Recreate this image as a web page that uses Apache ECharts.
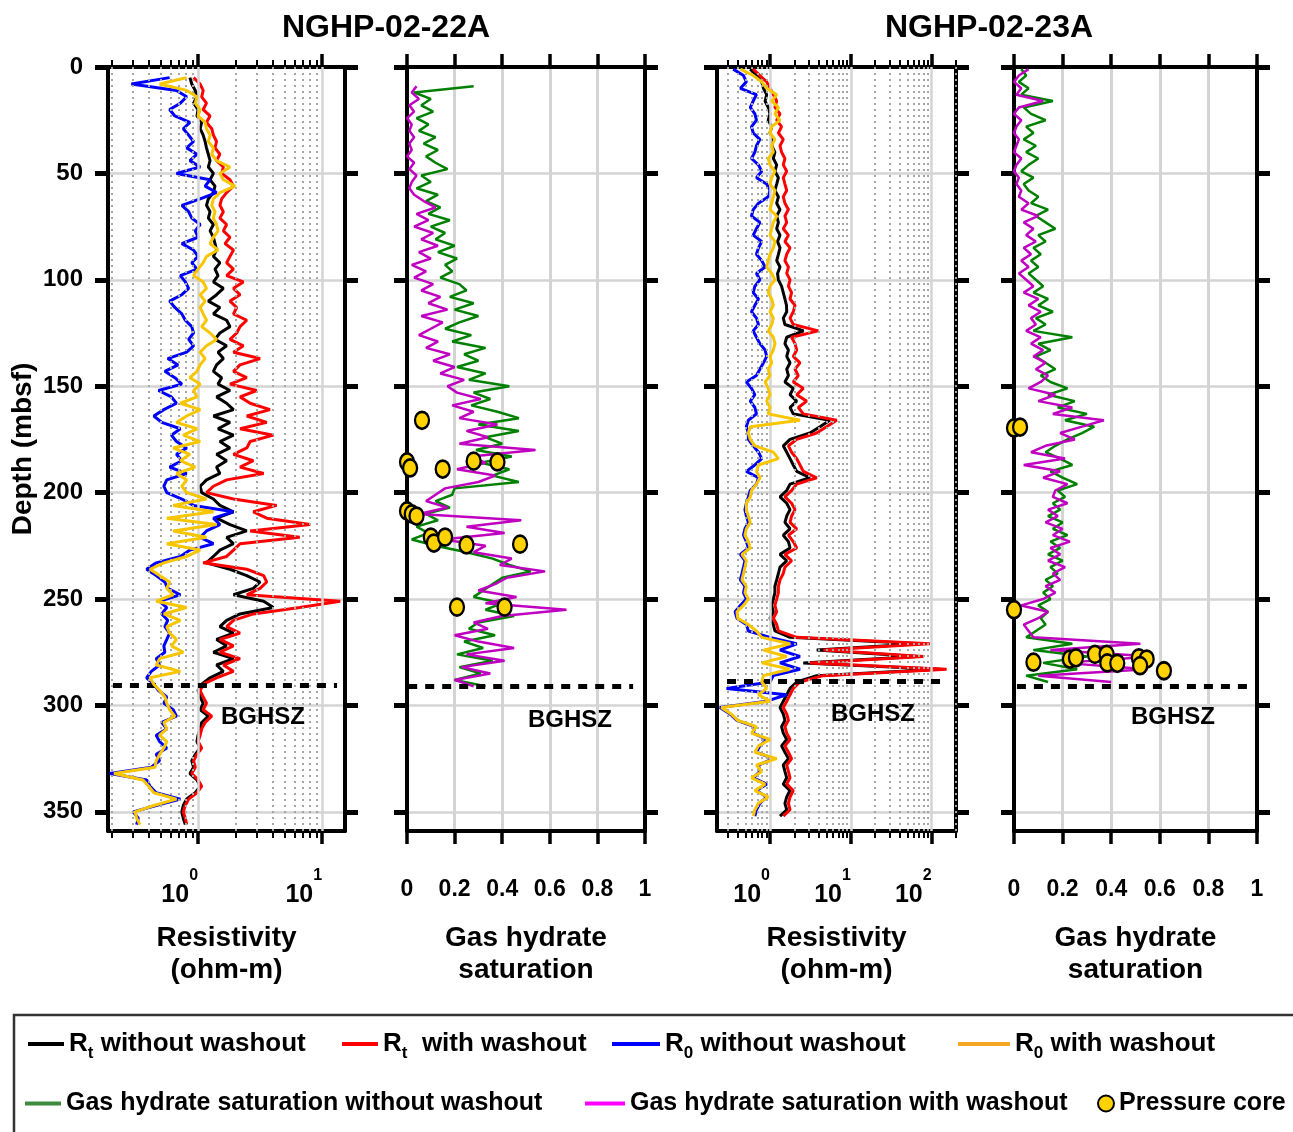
<!DOCTYPE html>
<html>
<head>
<meta charset="utf-8">
<title>NGHP-02-22A / NGHP-02-23A</title>
<script src="https://cdn.jsdelivr.net/npm/echarts/dist/echarts.min.js"></script>
<style>
  html, body { margin: 0; padding: 0; background: #fff; }
  #main { width: 1293px; height: 1132px; }
</style>
</head>
<body>
<div id="main"></div>
<script>
// ---- data ----
var depth22 = [5,8,11,14,17,20,23,26,29,32,35,38,41,44,47,50,53,56,59,62,65,68,71,74,77,80,83,86,89,92,
  95,98,101,104,107,110,113,116,119,122,125,128,131,134,137,140,143,146,149,152,155,158,161,164,167,170,173,176,179,182,
  185,188,191,194,197,200,203,206,209,212,215,218,221,224,227,230,233,236,239,242,245,248,251,254,257,260,263,266,269,272,
  275,278,281,284,287,290,293,296,299,302,305,308,311,314,317,320,323,326,329,332,335,338,341,344,347,350,353,356];

var depth23 = [1,4,7,10,13,16,19,22,25,28,31,34,37,40,43,46,49,52,55,58,61,64,67,70,73,76,79,82,85,88,
  91,94,97,100,103,106,109,112,115,118,121,124,127,130,133,136,139,142,145,148,151,154,157,160,163,166,169,172,175,178,
  181,184,187,190,193,196,199,202,205,208,211,214,217,220,223,226,229,232,235,238,241,244,247,250,253,256,259,262,265,268,
  271,274,277,280,283,286,289,292,295,298,301,304,307,310,313,316,319,322,325,328,331,334,337,340,343,346,349,352];

// NGHP-02-22A resistivity (ohm-m)
var rtNoWash22 = [0.86,0.89,0.95,0.98,0.92,1.0,0.98,1.07,1.04,1.1,
  1.14,1.17,1.21,1.25,1.21,1.33,1.25,1.37,1.33,1.21,
  1.17,1.25,1.21,1.33,1.25,1.33,1.37,1.41,1.33,1.5,
  1.37,1.45,1.33,1.6,1.41,1.21,1.5,1.33,1.7,1.81,
  1.5,1.37,1.7,1.45,1.6,1.41,1.33,1.55,1.45,1.81,
  1.41,1.7,1.93,1.33,1.81,1.45,1.93,1.5,1.81,1.41,
  1.7,1.41,1.5,1.17,1.04,1.07,1.33,1.5,1.93,1.41,
  1.81,2.47,1.7,1.93,1.5,1.33,1.17,1.81,2.47,3.16,
  2.79,1.93,3.38,4.05,2.18,1.7,1.5,1.93,1.41,1.7,
  1.33,1.93,1.41,1.6,1.25,1.07,1.0,1.04,1.1,1.04,
  1.21,1.07,1.04,1.0,0.98,1.04,0.95,0.89,0.92,0.86,
  0.98,1.04,0.95,0.81,0.76,0.74,0.76,0.79];
var rtWash22 = [0.92,1.04,1.1,1.07,1.17,1.1,1.25,1.17,1.29,1.33,
  1.41,1.37,1.5,1.41,1.6,1.55,1.81,1.93,1.7,1.55,
  1.5,1.6,1.5,1.7,1.6,1.81,1.65,1.93,1.81,1.7,
  1.93,1.7,2.32,1.93,2.18,1.81,2.05,1.93,2.47,2.18,
  2.05,1.81,2.32,1.93,3.16,2.18,1.93,2.47,1.81,2.97,
  2.18,2.63,3.8,2.47,3.58,2.18,4.05,2.63,2.47,1.93,
  2.79,2.18,3.38,1.7,1.33,1.17,1.93,4.3,2.79,3.58,
  8.0,2.63,6.6,2.18,1.93,1.7,1.1,2.47,3.38,3.58,
  3.16,2.47,14,6.6,2.79,1.93,1.7,2.18,1.5,1.93,
  1.5,2.18,1.6,1.93,1.41,1.1,1.04,1.1,1.17,1.1,
  1.29,1.14,1.07,1.04,1.0,1.07,0.98,0.92,0.95,0.89,
  1.0,1.07,0.98,0.84,0.79,0.76,0.79,0.81];
var r0NoWash22 = [0.59,0.29,0.67,0.81,0.72,0.59,0.65,0.86,0.76,0.84,
  0.92,0.81,0.98,0.86,1.04,0.67,1.25,1.14,1.41,1.04,
  0.74,0.84,0.89,1.04,0.95,1.0,0.74,0.92,1.0,0.89,
  0.98,0.72,0.79,0.84,0.74,0.59,0.65,0.74,0.79,0.89,
  0.92,0.84,0.92,0.81,0.57,0.69,0.54,0.65,0.74,0.48,
  0.61,0.67,0.53,0.44,0.51,0.72,0.61,0.67,0.81,0.67,
  0.74,0.59,0.81,0.56,0.53,0.56,0.74,0.92,1.93,1.33,
  1.5,1.17,1.04,1.33,0.86,0.72,0.46,0.385,0.46,0.54,
  0.57,0.72,0.49,0.56,0.51,0.57,0.54,0.59,0.56,0.53,
  0.54,0.46,0.49,0.42,0.385,0.44,0.48,0.56,0.53,0.63,
  0.67,0.51,0.56,0.46,0.49,0.56,0.46,0.49,0.42,0.195,
  0.385,0.41,0.46,0.72,0.46,0.30,0.33,0.32];
var r0Wash22 = [0.81,0.49,0.81,0.98,0.95,1.04,1.0,1.14,1.17,1.25,
  1.21,1.33,1.29,1.41,1.81,1.5,1.6,1.99,1.5,1.33,
  1.29,1.37,1.33,1.41,1.45,1.33,1.25,1.45,1.17,1.10,
  1.0,0.92,1.1,1.17,1.04,1.14,1.04,1.1,1.17,1.07,
  1.25,1.41,1.17,1.04,1.14,1.04,0.98,0.86,1.04,0.92,
  0.98,0.72,1.04,0.81,0.67,0.98,0.76,1.04,0.63,0.86,
  0.72,0.95,0.67,0.81,0.74,0.81,1.17,0.63,1.33,0.56,
  1.41,0.63,1.17,0.56,1.04,0.81,0.53,0.41,0.49,0.59,
  0.56,0.63,0.46,0.81,0.53,0.72,0.56,0.59,0.67,0.61,
  0.76,0.49,0.46,0.72,0.41,0.44,0.49,0.54,0.56,0.59,
  0.65,0.53,0.56,0.49,0.56,0.53,0.49,0.46,0.45,0.21,
  0.36,0.40,0.44,0.67,0.44,0.31,0.32,0.34];

// NGHP-02-23A resistivity (ohm-m)
var rtNoWash23 = [0.57,0.68,0.79,0.83,0.91,0.87,0.95,1.0,0.95,1.05,
  1.0,1.10,1.05,1.15,1.10,1.21,1.15,1.27,1.21,1.15,
  1.27,1.21,1.33,1.21,1.27,1.21,1.33,1.24,1.33,1.27,
  1.21,1.33,1.24,1.27,1.39,1.46,1.53,1.6,1.61,1.46,
  1.53,2.6,1.61,1.53,1.69,1.61,1.77,1.61,1.69,1.53,
  1.94,1.77,2.14,1.77,1.94,5.5,4.15,3.12,1.77,1.46,
  1.61,1.77,1.94,2.14,3.12,1.77,1.61,1.33,1.61,1.77,
  1.61,1.53,1.77,1.46,1.69,1.77,1.33,1.61,1.33,1.27,
  1.21,1.15,1.15,1.10,1.05,1.10,1.0,1.10,1.15,1.77,
  72,3.78,65,2.58,127,3.78,2.14,1.77,1.61,1.46,
  1.33,1.46,1.53,1.39,1.46,1.61,1.39,1.53,1.69,1.46,
  1.53,1.61,1.46,1.77,1.61,1.53,1.61,1.33];
var rtWash23 = [0.62,0.75,0.91,1.0,1.10,1.21,1.15,1.33,1.21,1.39,
  1.27,1.46,1.33,1.39,1.53,1.46,1.61,1.46,1.53,1.61,
  1.46,1.53,1.69,1.53,1.61,1.46,1.69,1.53,1.77,1.61,
  1.53,1.69,1.61,1.77,1.69,1.85,1.77,2.04,1.94,1.77,
  1.94,3.96,1.85,2.04,2.14,1.94,2.35,2.04,2.24,1.94,
  2.58,2.14,2.84,2.24,2.58,6.7,5.0,3.78,2.14,1.69,
  1.85,2.14,2.35,2.58,3.78,2.14,1.85,1.53,1.85,2.04,
  1.85,1.77,2.14,1.69,1.94,2.14,1.53,1.85,1.53,1.46,
  1.33,1.27,1.27,1.21,1.15,1.21,1.10,1.21,1.27,2.14,
  95,4.57,79,3.12,153,4.57,2.35,1.94,1.77,1.61,
  1.46,1.61,1.69,1.53,1.61,1.77,1.53,1.69,1.85,1.61,
  1.69,1.77,1.61,1.94,1.77,1.69,1.77,1.46];
var r0NoWash23 = [0.35,0.47,0.51,0.43,0.68,0.62,0.57,0.65,0.68,0.59,
  0.62,0.75,0.68,0.65,0.59,0.72,0.79,0.68,0.91,1.0,
  0.95,0.72,0.62,0.59,0.75,0.68,0.62,0.79,0.72,0.68,
  0.79,0.87,0.68,0.75,0.65,0.62,0.72,0.65,0.59,0.68,
  0.72,0.62,0.68,0.75,0.87,0.91,0.83,0.75,0.68,0.51,
  0.59,0.65,0.57,0.65,0.68,0.54,0.51,0.54,0.54,0.62,
  0.72,0.79,0.65,0.51,0.72,0.68,0.57,0.54,0.51,0.49,
  0.51,0.54,0.49,0.47,0.51,0.54,0.43,0.49,0.47,0.45,
  0.43,0.49,0.47,0.51,0.43,0.37,0.39,0.51,0.54,1.0,
  2.14,1.33,2.35,1.33,2.35,1.10,1.0,0.29,1.61,0.91,
  0.24,0.32,0.39,0.65,0.62,0.91,0.75,0.68,1.10,0.72,
  0.75,0.62,0.91,0.68,0.91,0.75,0.68,0.65];
var r0Wash23 = [0.43,0.62,0.79,0.91,1.21,1.05,1.27,1.15,1.33,1.05,
  1.0,1.15,1.05,1.10,0.95,1.0,1.15,1.05,1.0,1.15,
  1.10,1.05,1.0,1.21,1.10,1.05,1.0,1.15,1.10,1.0,
  0.95,0.91,1.05,1.15,1.0,0.95,1.05,1.10,1.0,1.10,
  1.05,0.95,1.10,1.15,1.10,1.0,1.05,0.95,1.0,0.87,
  0.95,1.0,0.91,1.0,0.95,2.35,0.57,0.54,0.57,0.65,
  1.10,1.27,0.72,0.68,0.75,0.68,0.59,0.57,0.51,0.51,
  0.54,0.57,0.51,0.49,0.54,0.57,0.45,0.51,0.49,0.47,
  0.45,0.51,0.49,0.54,0.47,0.39,0.40,0.54,0.68,0.79,
  1.77,0.83,1.61,0.79,1.77,0.83,0.79,0.91,0.72,1.0,
  0.25,0.33,0.40,0.68,0.59,1.0,0.72,0.65,1.21,0.68,
  0.79,0.59,0.87,0.65,0.95,0.72,0.65,0.62];

// gas hydrate saturation
var satDepth22 = [9,12,15,18,21,24,27,30,33,36,39,42,45,48,51,54,57,60,63,66,69,72,75,78,81,84,87,90,93,96,
  99,102,105,108,111,114,117,120,123,126,129,132,135,138,141,144,147,150,153,156,159,162,165,168,171,174,177,180,183,186,
  189,192,195,198,201,204,207,210,213,216,219,222,225,228,231,234,237,240,243,246,249,252,255,258,261,264,267,270,273,276,
  279,282,285,288,291];
var shNoWash22 = [0.28,0.03,0.10,0.06,0.11,0.04,0.09,0.05,0.12,0.07,
  0.13,0.08,0.12,0.17,0.06,0.10,0.04,0.13,0.08,0.14,
  0.09,0.18,0.10,0.16,0.12,0.20,0.13,0.21,0.16,0.19,
  0.14,0.22,0.25,0.18,0.28,0.20,0.30,0.22,0.16,0.27,
  0.19,0.33,0.24,0.30,0.21,0.33,0.26,0.43,0.28,0.35,
  0.27,0.38,0.47,0.30,0.47,0.33,0.40,0.29,0.44,0.31,
  0.43,0.36,0.47,0.20,0.19,0.12,0.18,0.08,0.13,0.04,
  0.09,0.02,0.12,0.25,0.36,0.43,0.52,0.40,0.36,0.32,
  0.28,0.40,0.33,0.45,0.30,0.26,0.37,0.24,0.32,0.21,
  0.36,0.22,0.31,0.20,0.33];
var shWash22 = [0.04,0.02,0.05,0.01,0.03,0.0,0.02,0.01,0.03,0.01,
  0.02,0.0,0.03,0.01,0.04,0.02,0.01,0.03,0.07,0.12,
  0.04,0.09,0.03,0.11,0.06,0.13,0.05,0.10,0.02,0.08,
  0.03,0.11,0.06,0.14,0.09,0.17,0.06,0.15,0.10,0.05,
  0.13,0.08,0.18,0.11,0.20,0.14,0.24,0.17,0.21,0.31,
  0.19,0.28,0.22,0.38,0.25,0.34,0.22,0.54,0.27,0.33,
  0.21,0.37,0.30,0.16,0.12,0.08,0.17,0.05,0.48,0.25,
  0.41,0.15,0.33,0.28,0.44,0.39,0.58,0.42,0.37,0.30,
  0.46,0.33,0.67,0.40,0.28,0.34,0.20,0.30,0.45,0.25,
  0.41,0.23,0.35,0.20,0.28];
var satDepth23 = [1,4,7,10,13,16,19,22,25,28,31,34,37,40,43,46,49,52,55,58,61,64,67,70,73,76,79,82,85,88,
  91,94,97,100,103,106,109,112,115,118,121,124,127,130,133,136,139,142,145,148,151,154,157,160,163,166,169,172,175,178,
  181,184,187,190,193,196,199,202,205,208,211,214,217,220,223,226,229,232,235,238,241,244,247,250,253,256,259,262,265,268,
  271,274,277,280,283,286,289];
var shNoWash23 = [0.03,0.05,0.02,0.06,0.03,0.16,0.04,0.07,0.13,0.05,
  0.08,0.04,0.09,0.05,0.10,0.06,0.03,0.08,0.04,0.06,
  0.10,0.07,0.14,0.09,0.13,0.17,0.10,0.13,0.08,0.11,
  0.07,0.10,0.06,0.09,0.12,0.08,0.14,0.10,0.16,0.09,
  0.13,0.08,0.24,0.10,0.15,0.09,0.13,0.17,0.11,0.15,
  0.22,0.14,0.25,0.18,0.30,0.21,0.33,0.28,0.22,0.17,
  0.13,0.19,0.24,0.15,0.20,0.26,0.18,0.21,0.16,0.19,
  0.14,0.20,0.16,0.22,0.15,0.19,0.14,0.20,0.15,0.18,
  0.13,0.16,0.12,0.15,0.10,0.14,0.11,0.13,0.09,0.05,
  0.24,0.08,0.30,0.12,0.26,0.05,0.14];
var shWash23 = [0.06,0.02,0.00,0.03,0.01,0.12,0.02,0.00,0.03,0.01,
  0.00,0.02,0.01,0.00,0.03,0.01,0.00,0.02,0.01,0.03,
  0.02,0.06,0.03,0.10,0.04,0.08,0.05,0.09,0.04,0.07,
  0.03,0.06,0.02,0.05,0.08,0.04,0.10,0.06,0.11,0.07,
  0.09,0.05,0.11,0.07,0.12,0.08,0.13,0.09,0.14,0.11,
  0.06,0.17,0.10,0.24,0.16,0.37,0.28,0.19,0.25,0.13,
  0.07,0.21,0.04,0.19,0.12,0.22,0.17,0.16,0.22,0.14,
  0.18,0.13,0.20,0.16,0.23,0.15,0.19,0.14,0.21,0.16,
  0.19,0.13,0.17,0.12,0.03,0.14,0.10,0.04,0.06,0.08,
  0.52,0.15,0.57,0.20,0.55,0.10,0.40];

// pressure cores
var coreDepth22 = [166,185.6,188.4,188.9,185.2,185.6,208.6,210,211,220.9,223.7,220.9,224.6,224.2,253.8,253.8];
var coreSat22 = [0.063,0,0.013,0.15,0.28,0.38,0,0.02,0.04,0.10,0.113,0.16,0.25,0.475,0.21,0.41];
var coreDepth23 = [169.6,169.2,255,279.7,278.2,277.6,276,276,280,280.2,277.6,278.2,281.3,283.7];
var coreSat23 = [0,0.025,0,0.08,0.23,0.255,0.333,0.381,0.384,0.425,0.514,0.546,0.519,0.617];

// base of gas hydrate stability zone (mbsf)
var bghsz22 = 290.6, bghsz23 = 288.6, bghszSat22 = 291, bghszSat23 = 291;

// axis ticks
var depthTicks = [0,50,100,150,200,250,300,350];
var major22 = [1,10];
var minor22 = [0.2,0.3,0.4,0.5,0.6,0.7,0.8,0.9,2,3,4,5,6,7,8,9];
var major23 = [1,10,100];
var minor23 = [0.3,0.4,0.5,0.6,0.7,0.8,0.9,2,3,4,5,6,7,8,9,20,30,40,50,60,70,80,90,200];

// ---- chart ----
var FONT = '"Liberation Sans", Arial, sans-serif';
var TOP = 67, HEIGHT = 764, DMAX = 359;
var black4 = {color: '#000', width: 4};
var black5 = {color: '#000', width: 5};

function pair(xs, ds) { return xs.map(function (v, i) { return [v, ds[i]]; }); }

var panels = [
  {left: 108, width: 237, kind: 'res', min: 0.188, max: 15.3, major: major22, minor: minor22,
   curves: [rtNoWash22, rtWash22, r0NoWash22, r0Wash22], depth: depth22, bghsz: bghsz22, dash: [0.206, 13.2]},
  {left: 407, width: 238, kind: 'sat',
   curves: [shNoWash22, shWash22], depth: satDepth22, coreD: coreDepth22, coreS: coreSat22, bghsz: bghszSat22, dash: [0.005, 0.95]},
  {left: 717, width: 239, kind: 'res', min: 0.221, max: 200, major: major23, minor: minor23,
   curves: [rtNoWash23, rtWash23, r0NoWash23, r0Wash23], depth: depth23, bghsz: bghsz23, dash: [0.294, 159]},
  {left: 1014, width: 243, kind: 'sat',
   curves: [shNoWash23, shWash23], depth: satDepth23, coreD: coreDepth23, coreS: coreSat23, bghsz: bghszSat23, dash: [0.012, 0.963]}
];

var resNames = ['Rt without washout', 'Rt with washout', 'R0 without washout', 'R0 with washout'];
var resColors = ['#000000', '#ff0000', '#0000ff', '#f7c600'];
var satNames = ['Gas hydrate saturation without washout', 'Gas hydrate saturation with washout'];
var satColors = ['#008000', '#c000c0'];

var nameStyle = {fontSize: 28, fontWeight: 'bold', color: '#000', fontFamily: FONT, lineHeight: 32};
var tickLabelRich = {
  b: {fontSize: 25, fontWeight: 'bold', fontFamily: FONT, color: '#000', lineHeight: 40, verticalAlign: 'bottom'},
  s: {fontSize: 16, fontWeight: 'bold', fontFamily: FONT, color: '#000', lineHeight: 40, verticalAlign: 'top'}
};

var grid = [], xAxis = [], yAxis = [], series = [];

panels.forEach(function (p, i) {
  grid.push({left: p.left, top: TOP, width: p.width, height: HEIGHT, outerBoundsMode: 'none'});

  var yi = yAxis.length;
  ['left', 'right'].forEach(function (pos) {
    yAxis.push({
      gridIndex: i, type: 'value', inverse: true, min: 0, max: DMAX, interval: 50, position: pos,
      name: (i === 0 && pos === 'left') ? 'Depth (mbsf)' : '',
      nameLocation: 'middle', nameGap: 64, nameTextStyle: nameStyle,
      axisLine: {show: true, onZero: false, lineStyle: black4},
      axisTick: {show: true, length: 13, customValues: depthTicks, lineStyle: black5},
      axisLabel: {show: i === 0 && pos === 'left', customValues: depthTicks, margin: 25,
        fontSize: 24, fontWeight: 'bold', color: '#000', fontFamily: FONT},
      splitLine: {show: pos === 'left', lineStyle: {color: '#d4d4d4', width: 2.5}}
    });
  });

  var xi = xAxis.length;
  if (p.kind === 'res') {
    [['bottom', true], ['bottom', false], ['top', true], ['top', false]].forEach(function (a) {
      var pos = a[0], isMajor = a[1];
      xAxis.push({
        gridIndex: i, type: 'log', logBase: 10, min: p.min, max: p.max, position: pos,
        name: (pos === 'bottom' && isMajor) ? 'Resistivity\n(ohm-m)' : '',
        nameLocation: 'middle', nameGap: 91, nameTextStyle: nameStyle,
        axisLine: {show: isMajor, onZero: false, lineStyle: black4},
        axisTick: {show: true, length: isMajor ? 13 : 7, customValues: isMajor ? p.major : p.minor,
          lineStyle: {color: '#000', width: isMajor ? 3.5 : 2}},
        axisLabel: {show: pos === 'bottom' && isMajor, customValues: p.major, margin: 37, align: 'right',
          formatter: function (v) { return '{b|10}{s|' + Math.round(Math.log(v) / Math.LN10) + '}'; },
          rich: tickLabelRich},
        splitLine: {show: false}
      });
    });
    // vertical grid: solid at decades, dotted at the 2..9 multiples
    var gl = [];
    p.major.forEach(function (v) { gl.push({xAxis: v, lineStyle: {color: '#d4d4d4', width: 2.5, type: 'solid'}}); });
    p.minor.forEach(function (v) { gl.push({xAxis: v, lineStyle: {color: '#a6a6a6', width: 2, type: [2, 4]}}); });
    series.push({type: 'line', xAxisIndex: xi, yAxisIndex: yi, data: [], silent: true, z: 1,
      markLine: {silent: true, symbol: ['none', 'none'], animation: false, label: {show: false}, data: gl}});
    p.curves.forEach(function (c, k) {
      series.push({name: resNames[k], type: 'line', xAxisIndex: xi, yAxisIndex: yi,
        data: pair(c, p.depth), showSymbol: false, symbol: 'none', z: 2 + k,
        lineStyle: {color: resColors[k], width: 3}, itemStyle: {color: resColors[k]}});
    });
  } else {
    ['bottom', 'top'].forEach(function (pos) {
      xAxis.push({
        gridIndex: i, type: 'value', min: 0, max: 1, interval: 0.2, position: pos,
        name: pos === 'bottom' ? 'Gas hydrate\nsaturation' : '',
        nameLocation: 'middle', nameGap: 91, nameTextStyle: nameStyle,
        axisLine: {show: true, onZero: false, lineStyle: black4},
        axisTick: {show: true, length: 13, lineStyle: {color: '#000', width: 3.5}},
        axisLabel: {show: pos === 'bottom', margin: 47, fontSize: 23, fontWeight: 'bold', color: '#000', fontFamily: FONT},
        splitLine: {show: pos === 'bottom', lineStyle: {color: '#d4d4d4', width: 3}}
      });
    });
    p.curves.forEach(function (c, k) {
      series.push({name: satNames[k], type: 'line', xAxisIndex: xi, yAxisIndex: yi,
        data: pair(c, p.depth), showSymbol: false, symbol: 'none', z: 2 + k,
        lineStyle: {color: satColors[k], width: 2.5}, itemStyle: {color: satColors[k]}});
    });
    series.push({name: 'Pressure core', type: 'scatter', xAxisIndex: xi, yAxisIndex: yi,
      data: pair(p.coreS, p.coreD), symbol: 'circle', symbolSize: [14, 17], z: 8,
      itemStyle: {color: '#ffd200', borderColor: '#000', borderWidth: 2.5, opacity: 1}});
  }
  // BGHSZ dashed line
  series.push({type: 'line', xAxisIndex: xi, yAxisIndex: yi, data: [], silent: true, z: 9,
    markLine: {silent: true, symbol: ['none', 'none'], animation: false, label: {show: false},
      lineStyle: {color: '#000', width: 5, type: [9, 8]},
      data: [[{coord: [p.dash[0], p.bghsz]}, {coord: [p.dash[1], p.bghsz]}]]}});
});

// legend
function legendRich(size) {
  return {
    n: {fontSize: size, fontWeight: 'bold', fontFamily: FONT, color: '#000', lineHeight: 36, verticalAlign: 'middle'},
    s: {fontSize: 17, fontWeight: 'bold', fontFamily: FONT, color: '#000', lineHeight: 36, verticalAlign: 'bottom'}
  };
}
function legendItem(name, label, left, top, color, w, h, icon, border, size) {
  var style = {color: color};
  if (border) { style.borderColor = '#000'; style.borderWidth = 2; }
  size = size || 26;
  return {
    data: [{name: name, itemStyle: style}], left: left, top: top, padding: 0,
    icon: icon || 'rect', itemWidth: w, itemHeight: h || 4, selectedMode: false,
    formatter: function () { return label; },
    textStyle: {rich: legendRich(size), fontSize: size, fontWeight: 'bold', color: '#000', fontFamily: FONT}
  };
}
var legend = [
  legendItem('Rt without washout', '{n|R}{s|t}{n| without washout}', 28, 1031, '#000000', 36),
  legendItem('Rt with washout', '{n|R}{s|t}{n|  with washout}', 342, 1031, '#ff0000', 36),
  legendItem('R0 without washout', '{n|R}{s|0}{n| without washout}', 612, 1031, '#0000ff', 48),
  legendItem('R0 with washout', '{n|R}{s|0}{n| with washout}', 958, 1031, '#f5a623', 52),
  legendItem('Gas hydrate saturation without washout', '{n|Gas hydrate saturation without washout}', 25, 1091, '#3d8b3d', 36, 4, null, false, 25),
  legendItem('Gas hydrate saturation with washout', '{n|Gas hydrate saturation with washout}', 585, 1091, '#ff00ff', 40, 4, null, false, 25),
  legendItem('Pressure core', '{n|Pressure core}', 1097, 1091, '#ffd200', 16, 20, 'circle', true, 25)
];

function label(text, x, y, font) {
  return {type: 'text', x: x, y: y, z: 100, silent: true,
    style: {text: text, font: font, fill: '#000', align: 'center', verticalAlign: 'middle'}};
}

var option = {
  animation: false,
  backgroundColor: '#fff',
  grid: grid,
  xAxis: xAxis,
  yAxis: yAxis,
  legend: legend,
  series: series,
  graphic: [
    label('NGHP-02-22A', 386, 28, 'bold 32px ' + FONT),
    label('NGHP-02-23A', 989, 28, 'bold 32px ' + FONT),
    label('BGHSZ', 263, 717, 'bold 24px ' + FONT),
    label('BGHSZ', 570, 720, 'bold 24px ' + FONT),
    label('BGHSZ', 873, 714, 'bold 24px ' + FONT),
    label('BGHSZ', 1173, 717, 'bold 24px ' + FONT),
    {type: 'rect', silent: true, z: -1, shape: {x: 14, y: 1015, width: 1290, height: 130},
      style: {fill: 'none', stroke: '#333', lineWidth: 2.5}}
  ]
};

var chart = echarts.init(document.getElementById('main'));
chart.setOption(option);
</script>
</body>
</html>
